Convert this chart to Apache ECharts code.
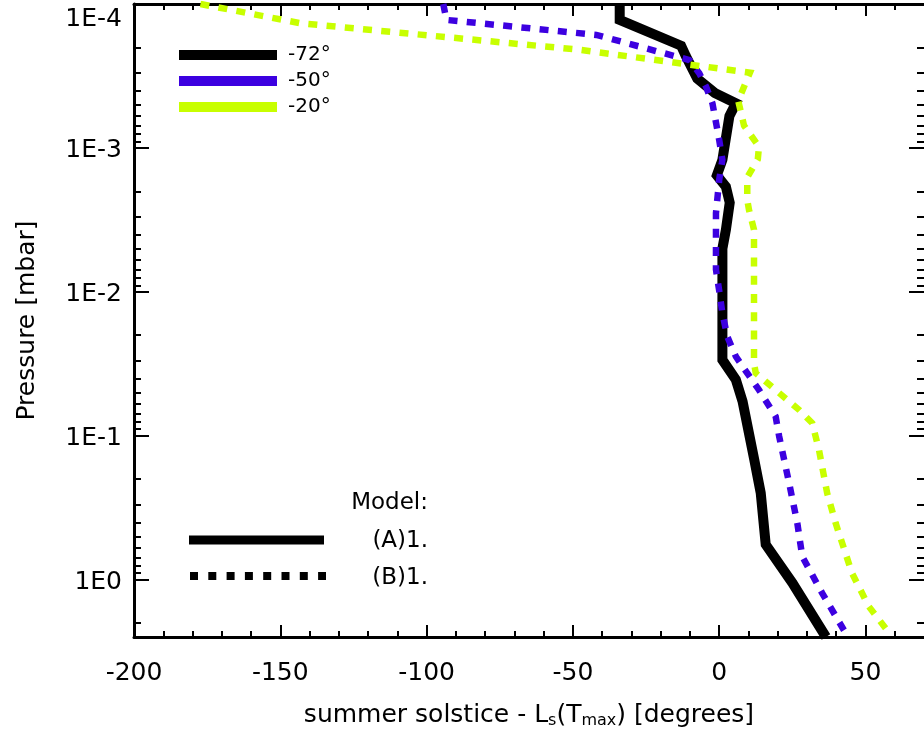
<!DOCTYPE html>
<html>
<head>
<meta charset="utf-8">
<script src="https://cdn.jsdelivr.net/npm/echarts@6/dist/echarts.min.js"></script>
<style>
  html, body { margin: 0; padding: 0; background: #ffffff; }
  #chart { width: 924px; height: 740px; }
</style>
</head>
<body>
<div id="chart"></div>
<script>
const FONT = 'DejaVu Sans';

// Latitude profiles: lag of the temperature maximum (degrees of Ls) vs pressure (mbar)
const seriesNames = ['-72°', '-50°', '-20°'];
const seriesColors = ['#000000', '#3c00e0', '#c8ff00'];

// -72° (model A, solid)
const lagS72 = [-34, -34, -13, -11.4, -7.5, -1.5, 5.7, 3.5, 1.1, -0.8, 2.3, 3.6, 2.3, 1.1, 1.1, 5.7, 8, 12, 14.2, 15.9, 25, 36.5];
const presS72 = [1e-4, 1.29e-4, 1.95e-4, 2.3e-4, 3.3e-4, 4.15e-4, 4.9e-4, 6e-4, 1.21e-3, 1.55e-3, 1.86e-3, 2.4e-3, 3.7e-3, 5e-3, 0.0297, 0.0408, 0.0578, 0.147, 0.25, 0.57, 1.05, 2.5];

// -50° (model B, dashed)
const lagS50 = [-94.3, -93.2, -42, -10.2, -6.8, -4.5, -2.3, 0, 1.1, 0, -1.1, -1.1, 0, 1.1, 2.8, 5.7, 8, 13.6, 19.3, 20.5, 23.9, 26.7, 28.4, 35.2, 44];
const presS50 = [1e-4, 1.29e-4, 1.64e-4, 2.45e-4, 3.03e-4, 3.75e-4, 4.9e-4, 8.8e-4, 1.21e-3, 1.67e-3, 2.84e-3, 7e-3, 9.8e-3, 0.0141, 0.0205, 0.0281, 0.033, 0.048, 0.0734, 0.101, 0.213, 0.404, 0.69, 1.24, 2.5];

// -20° (model B, dashed)
const lagS20 = [-177.3, -143.2, -47.7, -13.6, 10.5, 6.5, 8.5, 13.6, 13.2, 9.6, 9.6, 10.2, 11.9, 11.9, 12.5, 27.3, 31.8, 34.1, 36.9, 39.8, 45.4, 51.1, 58.5];
const presS20 = [1e-4, 1.36e-4, 2.08e-4, 2.58e-4, 3e-4, 4.7e-4, 7e-4, 9.8e-4, 1.2e-3, 1.6e-3, 2.3e-3, 2.7e-3, 3.7e-3, 0.0313, 0.0367, 0.066, 0.0816, 0.125, 0.25, 0.404, 0.9, 1.53, 2.4];

// Axis ranges and ticks
const xMin = -200, xMax = 70;
const xMajorTicks = [-200, -150, -100, -50, 0, 50];
const xMinorTicks = [-190, -180, -170, -160, -140, -130, -120, -110, -90, -80, -70, -60,
                     -40, -30, -20, -10, 10, 20, 30, 40, 60];
const yMin = 1e-4, yMax = 2.5;
const yMajorTicks = [1e-4, 1e-3, 1e-2, 1e-1, 1];
const yMinorMultipliers = [2, 3, 4, 5, 6, 7, 8, 9];
const yMinorTicks = [];
yMajorTicks.forEach(d => yMinorMultipliers.forEach(m => {
  const v = +(m * d).toPrecision(3);
  if (v <= yMax) yMinorTicks.push(v);
}));

// Model legend entries
const modelTitle = 'Model:';
const modelNames = ['(A)1.', '(B)1.'];

const AXIS_W = 3;
const TICK_W = 2;
const TICK_FONT = 25;

function xAxisDef(position, ticks, len, withLabels) {
  return {
    type: 'value', min: xMin, max: xMax, position: position,
    axisLine: { show: true, onZero: false, lineStyle: { color: '#000', width: AXIS_W } },
    axisTick: { show: true, inside: true, length: len, customValues: ticks, lineStyle: { color: '#000', width: TICK_W } },
    axisLabel: withLabels ? {
      show: true, customValues: xMajorTicks, margin: 24,
      fontFamily: FONT, fontSize: TICK_FONT, color: '#000'
    } : { show: false },
    splitLine: { show: false },
    minorTick: { show: false }
  };
}

function yAxisDef(position, ticks, len, withLabels) {
  return {
    type: 'log', logBase: 10, min: yMin, max: yMax, inverse: true, position: position,
    axisLine: { show: true, onZero: false, lineStyle: { color: '#000', width: AXIS_W } },
    axisTick: { show: true, inside: true, length: len, customValues: ticks, lineStyle: { color: '#000', width: TICK_W } },
    axisLabel: withLabels ? {
      show: true, customValues: yMajorTicks, margin: 12,
      fontFamily: FONT, fontSize: TICK_FONT, color: '#000',
      formatter: function (v) {
        const e = Math.round(Math.log10(v));
        const t = '1E' + e;
        return e === -4 ? '{first|' + t + '}' : '{lab|' + t + '}';
      },
      rich: {
        first: { fontFamily: FONT, fontSize: TICK_FONT, color: '#000', padding: [30, 0, 0, 0] },
        lab: { fontFamily: FONT, fontSize: TICK_FONT, color: '#000', padding: [6, 0, 0, 0] }
      }
    } : { show: false },
    splitLine: { show: false }
  };
}

const xTitle = {
  name: 'summer solstice - L{sub|s}(T{sub|max}) [degrees]',
  nameLocation: 'middle', nameGap: 64,
  nameTextStyle: {
    fontFamily: FONT, fontSize: 25, color: '#000',
    rich: { sub: { fontFamily: FONT, fontSize: 16, color: '#000', padding: [12, 0, 0, 0] } }
  }
};

const xBottom = Object.assign(xAxisDef('bottom', xMajorTicks, 12, true), xTitle);
const xBottomMinor = xAxisDef('bottom', xMinorTicks, 6, false);
const xTop = xAxisDef('top', xMajorTicks, 12, false);
const xTopMinor = xAxisDef('top', xMinorTicks, 6, false);
xBottomMinor.axisLine.show = false;
xTopMinor.axisLine.show = false;

const yLeft = Object.assign(yAxisDef('left', yMajorTicks, 15, true), {
  name: 'Pressure [mbar]', nameLocation: 'middle', nameGap: 94, nameRotate: 90,
  nameTextStyle: { fontFamily: FONT, fontSize: 25, color: '#000' }
});
const yLeftMinor = yAxisDef('left', yMinorTicks, 7, false);
const yRight = yAxisDef('right', yMajorTicks, 15, false);
const yRightMinor = yAxisDef('right', yMinorTicks, 7, false);
yLeftMinor.axisLine.show = false;
yRight.axisLine.show = false;
yRightMinor.axisLine.show = false;

function pairs(xs, ps) {
  return xs.map((x, i) => [x, ps[i]]);
}

const chart = echarts.init(document.getElementById('chart'), null, { renderer: 'canvas' });

const LEG_FONT = '23px "DejaVu Sans"';
const LEG_RIGHT = 428;

chart.setOption({
  animation: false,
  backgroundColor: '#ffffff',
  grid: { left: 134, right: 0, top: 4, bottom: 103, containLabel: false },
  xAxis: [xBottom, xBottomMinor, xTop, xTopMinor],
  yAxis: [yLeft, yLeftMinor, yRight, yRightMinor],
  legend: {
    orient: 'vertical', left: 174, top: 40,
    itemWidth: 98, itemHeight: 10, itemGap: 6, icon: 'rect',
    itemStyle: { borderWidth: 0 },
    textStyle: { fontFamily: FONT, fontSize: 20, lineHeight: 20, color: '#000', padding: [0, 0, 0, 6] },
    data: seriesNames,
    selectedMode: false
  },
  series: [
    {
      name: seriesNames[0], type: 'line', xAxisIndex: 0, yAxisIndex: 0,
      data: pairs(lagS72, presS72), showSymbol: false, symbol: 'none',
      color: seriesColors[0],
      lineStyle: { color: seriesColors[0], width: 10, join: 'miter', cap: 'butt' }
    },
    {
      name: seriesNames[1], type: 'line', xAxisIndex: 0, yAxisIndex: 0,
      data: pairs(lagS50, presS50), showSymbol: false, symbol: 'none',
      color: seriesColors[1],
      lineStyle: { color: seriesColors[1], width: 6.5, type: [9, 9.3], cap: 'butt', join: 'miter' }
    },
    {
      name: seriesNames[2], type: 'line', xAxisIndex: 0, yAxisIndex: 0,
      data: pairs(lagS20, presS20), showSymbol: false, symbol: 'none',
      color: seriesColors[2],
      lineStyle: { color: seriesColors[2], width: 6.5, type: [9, 9.3], cap: 'butt', join: 'miter' }
    }
  ],
  graphic: [
    { type: 'text', x: LEG_RIGHT, y: 503, style: { text: modelTitle, fill: '#000', font: LEG_FONT, textAlign: 'right', textVerticalAlign: 'middle' } },
    { type: 'text', x: LEG_RIGHT, y: 541, style: { text: modelNames[0], fill: '#000', font: LEG_FONT, textAlign: 'right', textVerticalAlign: 'middle' } },
    { type: 'text', x: LEG_RIGHT, y: 578, style: { text: modelNames[1], fill: '#000', font: LEG_FONT, textAlign: 'right', textVerticalAlign: 'middle' } },
    { type: 'line', shape: { x1: 189, y1: 540, x2: 324, y2: 540 }, style: { stroke: '#000', lineWidth: 9 } },
    { type: 'line', shape: { x1: 190, y1: 576, x2: 326, y2: 576 }, style: { stroke: '#000', lineWidth: 8, lineDash: [8, 10.3] } }
  ]
});
</script>
</body>
</html>
